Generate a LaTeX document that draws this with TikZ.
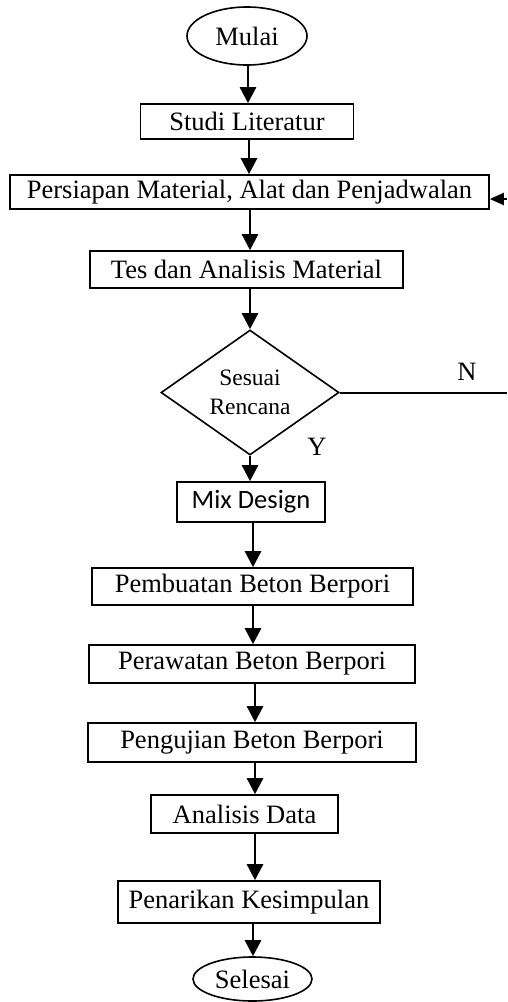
\documentclass[tikz,border=0pt]{standalone}
\usepackage{fontspec}
\setmainfont{Liberation Serif}
\newfontfamily\calibrifont{Carlito}
\usetikzlibrary{shapes.geometric,arrows.meta}
\begin{document}
\begin{tikzpicture}[x=1pt,y=-1pt,
  box/.style={draw,line width=1.6pt,inner sep=0pt,font=\fontsize{26.5}{31}\selectfont},
  term/.style={draw,ellipse,line width=1.6pt,inner sep=0pt,font=\fontsize{26.5}{31}\selectfont},
  dec/.style={draw,diamond,line width=1.6pt,inner sep=0pt,aspect=1.42,align=center,font=\fontsize{23.5}{29}\selectfont},
  arr/.style={line width=2.5pt,-{Triangle[width=16pt,length=16pt]}},
  smallarr/.style={line width=2.2pt,-{Triangle[width=12pt,length=14pt]}},
  conn/.style={line width=2pt},
  lbl/.style={font=\fontsize{26.5}{31}\selectfont,inner sep=0pt}]
\useasboundingbox (0,0) rectangle (507,1002);
\node[term,minimum width=120pt,minimum height=58pt] (mulai) at (247,36) {Mulai};
\node[box,minimum width=213pt,minimum height=35pt] (studi) at (247,121.5) {Studi Literatur};
\node[box,minimum width=479pt,minimum height=34pt] (persiapan) at (249.5,192) {Persiapan Material, Alat dan Penjadwalan};
\node[box,minimum width=313pt,minimum height=37pt] (tes) at (246.5,269.5) {Tes dan Analisis Material};
\node[dec,minimum width=178pt,minimum height=125pt] (sesuai) at (250,392.5) {Sesuai\\Rencana};
\node[box,minimum width=148pt,minimum height=40pt,font=\fontsize{26.5}{31}\calibrifont] (mix) at (251,502) {Mix Design};
\node[box,minimum width=321pt,minimum height=37pt] (pembuatan) at (252.5,586.5) {Pembuatan Beton Berpori};
\node[box,minimum width=326pt,minimum height=38pt] (perawatan) at (252,664) {Perawatan Beton Berpori};
\node[box,minimum width=328pt,minimum height=39pt] (pengujian) at (252,742.5) {Pengujian Beton Berpori};
\node[box,minimum width=187pt,minimum height=38pt] (analisis) at (244.5,814) {Analisis Data};
\node[box,minimum width=262pt,minimum height=42pt] (penarikan) at (249,902) {Penarikan Kesimpulan};
\node[term,minimum width=119pt,minimum height=44pt] (selesai) at (252.5,979) {Selesai};
\node[lbl] (nlab) at (467,372) {N};
\node[lbl] (ylab) at (317,447) {Y};
\coordinate (nend) at (507,392.5);
\coordinate (fbstart) at (507,199);
\draw[arr] ([xshift=1pt]mulai.south) -- ([xshift=1pt]mulai.south |- studi.north);
\draw[arr] ([xshift=2pt]studi.south) -- ([xshift=2pt]studi.south |- persiapan.north);
\draw[arr] ([xshift=3.5pt]tes.north |- persiapan.south) -- ([xshift=3.5pt]tes.north);
\draw[arr] ([xshift=3.5pt]tes.south) -- (sesuai.north);
\draw[arr] (sesuai.south) -- (sesuai.south |- mix.north);
\draw[arr] ([xshift=2pt]mix.south) -- ([xshift=2pt]mix.south |- pembuatan.north);
\draw[arr] ([xshift=0.5pt]pembuatan.south) -- ([xshift=0.5pt]pembuatan.south |- perawatan.north);
\draw[arr] ([xshift=3pt]perawatan.south) -- ([xshift=3pt]perawatan.south |- pengujian.north);
\draw[arr] ([xshift=3pt]pengujian.south) -- ([xshift=3pt]pengujian.south |- analisis.north);
\draw[arr] ([xshift=10.5pt]analisis.south) -- ([xshift=10.5pt]analisis.south |- penarikan.north);
\draw[arr] ([xshift=4pt]penarikan.south) -- ([xshift=4pt]penarikan.south |- selesai.north);
\draw[conn] (sesuai.east) -- (sesuai.east -| nend);
\draw[smallarr] (fbstart) -- (persiapan.east |- fbstart);
\end{tikzpicture}
\end{document}
